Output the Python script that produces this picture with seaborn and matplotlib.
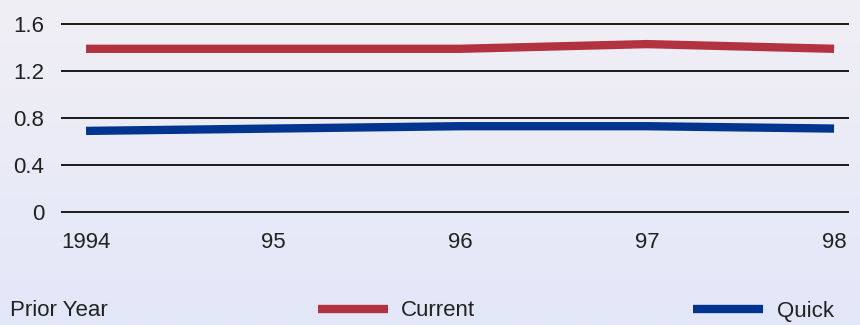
import matplotlib.pyplot as plt
import numpy as np
import pandas as pd
import seaborn as sns

years = [1994, 1995, 1996, 1997, 1998]
year_labels = ['1994', '95', '96', '97', '98']
current = [1.39, 1.39, 1.39, 1.43, 1.39]
quick = [0.69, 0.71, 0.73, 0.73, 0.71]
y_ticks = [0, 0.4, 0.8, 1.2, 1.6]
y_labels = ['0', '0.4', '0.8', '1.2', '1.6']

df = pd.DataFrame({'year': years * 2,
                   'ratio': current + quick,
                   'series': ['Current'] * len(years) + ['Quick'] * len(years)})

sns.set_theme(style='white')
plt.rcParams['font.family'] = ['Liberation Sans Narrow', 'Liberation Sans', 'DejaVu Sans']

fig = plt.figure(figsize=(8.6, 3.25), dpi=100)

# soft lavender-to-blue background
bg = fig.add_axes([0, 0, 1, 1], zorder=-1)
grad = np.linspace(0, 1, 256).reshape(-1, 1)
top = np.array([0xf1, 0xef, 0xf5]) / 255
bottom = np.array([0xe2, 0xe7, 0xf8]) / 255
img = top[None, None, :] * (1 - grad[:, :, None]) + bottom[None, None, :] * grad[:, :, None]
bg.imshow(img, aspect='auto', extent=[0, 1, 0, 1])
bg.axis('off')

ax = fig.add_axes([61 / 860, 1 - 213 / 325, 788 / 860, 190 / 325])
ax.set_facecolor('none')

sns.lineplot(data=df, x='year', y='ratio', hue='series', ax=ax,
             palette={'Current': '#b2323f', 'Quick': '#00358f'},
             linewidth=6, solid_capstyle='butt')

ax.set_xlim(1993.866, 1998.08)
ax.set_ylim(-0.01, 1.61)
ax.set_yticks(y_ticks)
ax.set_yticklabels(y_labels)
ax.set_xticks(years)
ax.set_xticklabels(year_labels)
ax.set_xlabel('')
ax.set_ylabel('')
ax.yaxis.grid(True, color='#1a1a1a', linewidth=1.4)
ax.set_axisbelow(True)
for s in ax.spines.values():
    s.set_visible(False)
ax.tick_params(axis='both', length=0, labelsize=16, colors='#222222')
ax.tick_params(axis='y', pad=12)
ax.tick_params(axis='x', pad=14)

sns.move_legend(ax, 'center left', bbox_to_anchor=(318 / 860, 14 / 325),
                bbox_transform=fig.transFigure, ncol=2, frameon=False, title=None,
                fontsize=16, handlelength=3.15, handletextpad=0.6, columnspacing=9.8,
                borderpad=0, borderaxespad=0)
for t in ax.get_legend().get_texts():
    t.set_color('#222222')

fig.text(10 / 860, 14 / 325, 'Prior Year', fontsize=16, color='#222222',
         ha='left', va='center')

plt.savefig('out.png', dpi=100)
